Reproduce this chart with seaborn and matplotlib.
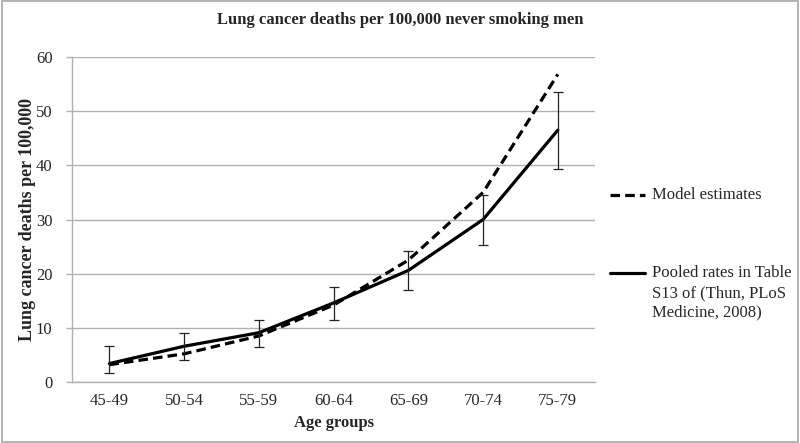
import numpy as np
import pandas as pd
import seaborn as sns
import matplotlib.pyplot as plt
from matplotlib.lines import Line2D
from matplotlib.patches import Rectangle

# ── Data ───────────────────────────────────────────────────────────────────
AGE_GROUPS   = ['45-49', '50-54', '55-59', '60-64', '65-69', '70-74', '75-79']
MODEL_EST    = [3.2, 5.2, 8.5, 14.2, 22.5, 35.0, 56.8]
POOLED_RATES = [3.4, 6.6, 9.1, 14.6, 20.6, 30.0, 46.5]
POOLED_LOW   = [1.6, 4.1, 6.4, 11.4, 16.9, 25.3, 39.3]
POOLED_HIGH  = [6.7, 9.1, 11.4, 17.6, 24.2, 34.5, 53.6]

MODEL_LABEL  = 'Model estimates'
POOLED_LABEL = 'Pooled rates in Table\nS13 of (Thun, PLoS\nMedicine, 2008)'

sns.set_style('white')
plt.rcParams['font.family'] = ['Liberation Serif', 'DejaVu Serif']

df = pd.DataFrame({
    'age': AGE_GROUPS * 2,
    'rate': MODEL_EST + POOLED_RATES,
    'series': ['model'] * len(AGE_GROUPS) + ['pooled'] * len(AGE_GROUPS),
})
x = np.arange(len(AGE_GROUPS))
df['x'] = np.tile(x, 2)

fig = plt.figure(figsize=(8, 4.43), dpi=100)
ax = fig.add_axes([0.09, 0.1377, 0.654, 0.7336])

sns.lineplot(data=df, x='x', y='rate', style='series', color='black',
             dashes={'model': (3, 1.6), 'pooled': ''}, linewidth=2.3,
             legend=False, ax=ax)

yerr = [np.array(POOLED_RATES) - np.array(POOLED_LOW),
        np.array(POOLED_HIGH) - np.array(POOLED_RATES)]
ax.errorbar(x, POOLED_RATES, yerr=yerr, fmt='none', ecolor='#222222',
            elinewidth=0.9, capsize=3.5, capthick=0.9)

ax.set_xlim(-0.5, len(AGE_GROUPS) - 0.5)
ax.set_ylim(0, 60)
ax.set_yticks(range(0, 61, 10))
ax.set_xticks(x)
ax.set_xticklabels(AGE_GROUPS)
ax.tick_params(axis='x', labelsize=12, length=0, pad=8)
ax.tick_params(axis='y', labelsize=12, length=4, width=1, color='#b0b0b0',
               direction='out', left=True, pad=10)
ax.yaxis.grid(True, color='#b0b0b0', linewidth=1)
ax.set_axisbelow(True)
for side in ['top', 'right']:
    ax.spines[side].set_visible(False)
for side in ['left', 'bottom']:
    ax.spines[side].set_color('#b0b0b0')
    ax.spines[side].set_linewidth(1)

ax.set_xlabel('Age groups', fontsize=12, fontweight='bold', labelpad=4)
ax.set_ylabel('Lung cancer deaths per 100,000', fontsize=13, fontweight='bold')
ax.yaxis.set_label_coords(-0.069, 0.5)
fig.text(0.5, 0.955, 'Lung cancer deaths per 100,000 never smoking men',
         ha='center', va='center', fontsize=12, fontweight='bold')

# legend, Excel-style with the handle next to the first line of text
fig.add_artist(Line2D([0.763, 0.806], [0.56, 0.56], color='black',
                      linewidth=2.3, dashes=(3, 1.6)))
fig.text(0.815, 0.56, MODEL_LABEL, ha='left', va='center', fontsize=12)
fig.add_artist(Line2D([0.763, 0.806], [0.384, 0.384], color='black', linewidth=2.3))
fig.text(0.815, 0.401, POOLED_LABEL, ha='left', va='top', fontsize=12,
         linespacing=1.3)

fig.add_artist(Rectangle((0.002, 0.002), 0.995, 0.995, transform=fig.transFigure,
                         fill=False, edgecolor='#a8a8a8', linewidth=1.2))

fig.savefig('out.png', dpi=100)
